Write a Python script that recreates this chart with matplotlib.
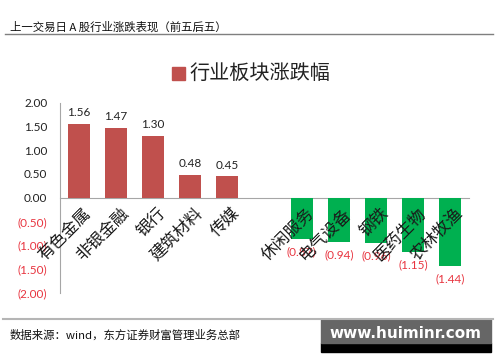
import matplotlib.pyplot as plt
from matplotlib.patches import Rectangle
import numpy as np

plt.rcParams["font.family"] = ["Noto Sans CJK SC", "DejaVu Sans"]

HEADER = "上一交易日 A 股行业涨跌表现（前五后五）"
TITLE = "行业板块涨跌幅"
SOURCE = "数据来源：wind，东方证券财富管理业务总部"
WATERMARK = "www.huiminr.com"

up_names = ["有色金属", "非银金融", "银行", "建筑材料", "传媒"]
up_values = [1.56, 1.47, 1.30, 0.48, 0.45]
down_names = ["休闲服务", "电气设备", "钢铁", "医药生物", "农林牧渔"]
down_values = [-0.87, -0.94, -0.96, -1.15, -1.44]
y_ticks = [2.0, 1.5, 1.0, 0.5, 0.0, -0.5, -1.0, -1.5, -2.0]

RED_BAR = "#c0504d"
GREEN_BAR = "#00b050"
RED_TEXT = "#e8343f"
NUM_FONT = ["Lato", "DejaVu Sans"]


def fmt(v):
    if v < 0:
        return f"({abs(v):.2f})"
    return f"{v:.2f}"


fig = plt.figure(figsize=(5.0, 3.62), dpi=100)
ax = fig.add_axes([0.12, 0.1914, 0.818, 0.525])

x_up = np.arange(len(up_values))
x_down = np.arange(len(down_values)) + len(up_values) + 1
names = up_names + down_names
xs = list(x_up) + list(x_down)

ax.bar(x_up, up_values, width=0.59, color=RED_BAR, zorder=2)
ax.bar(x_down, down_values, width=0.59, color=GREEN_BAR, zorder=2)

for x, v in zip(x_up, up_values):
    ax.annotate(fmt(v), (x, v), xytext=(0, 4), textcoords="offset points",
                ha="center", va="bottom", fontsize=8.5, family=NUM_FONT,
                color="#222222")
for x, v in zip(x_down, down_values):
    ax.annotate(fmt(v), (x, v), xytext=(0, -5), textcoords="offset points",
                ha="center", va="top", fontsize=8.5, family=NUM_FONT,
                color=RED_TEXT)

for x, name in zip(xs, names):
    ax.annotate(name, (x, 0), xytext=(3, -5), textcoords="offset points",
                rotation=45, ha="right", va="top", rotation_mode="anchor",
                fontsize=12, color="#1a1a1a", zorder=3)

ax.set_xlim(-0.5, len(xs) + 0.5)
ax.set_ylim(-2.0, 2.0)
ax.set_yticks(y_ticks)
ax.set_yticklabels([fmt(v) for v in y_ticks], family=NUM_FONT, fontsize=8.5)
for lab, v in zip(ax.get_yticklabels(), y_ticks):
    lab.set_color(RED_TEXT if v < 0 else "#222222")
ax.tick_params(axis="y", length=0, pad=9)
ax.set_xticks([])

for side in ["top", "right"]:
    ax.spines[side].set_visible(False)
ax.spines["bottom"].set_position(("data", 0))
ax.spines["bottom"].set_color("#a6a6a6")
ax.spines["left"].set_color("#a6a6a6")
ax.spines["bottom"].set_zorder(1)

# legend-like title
fig.patches.append(Rectangle((172 / 500, 1 - 80 / 362), 13 / 500, 13 / 362,
                             transform=fig.transFigure, color=RED_BAR))
fig.text(189 / 500, 1 - 73 / 362, TITLE, fontsize=14.5, va="center", ha="left",
         color="#222222")

# header and footer
fig.text(10 / 500, 1 - 27 / 362, HEADER, fontsize=8.2, va="center", ha="left",
         color="#111111")
fig.add_artist(plt.Line2D([5 / 500, 493 / 500], [1 - 33.5 / 362, 1 - 33.5 / 362],
                          color="#7f7f7f", lw=1.0))
fig.add_artist(plt.Line2D([3 / 500, 493 / 500], [1 - 319 / 362, 1 - 319 / 362],
                          color="#b5b5b5", lw=1.5))
fig.text(10 / 500, 1 - 335 / 362, SOURCE, fontsize=8.2, va="center", ha="left",
         color="#111111")

# watermark box
fig.patches.append(Rectangle((321 / 500, 1 - 352 / 362), 170 / 500, 9 / 362,
                             transform=fig.transFigure, color="black"))
fig.patches.append(Rectangle((321 / 500, 1 - 343 / 362), 170 / 500, 24 / 362,
                             transform=fig.transFigure, color="#666666"))
fig.text(405 / 500, 1 - 333 / 362, WATERMARK, fontsize=11, fontweight="bold",
         va="center", ha="center", color="white", family="DejaVu Sans")

fig.savefig("out.png", dpi=100)
